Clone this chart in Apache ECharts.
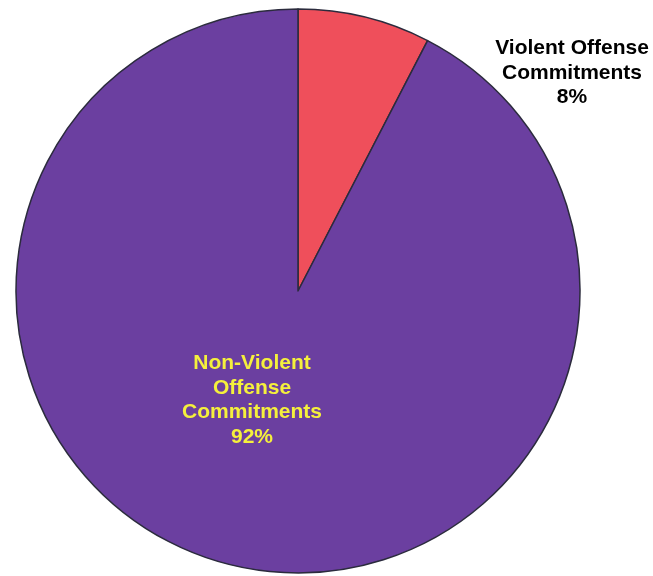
<!DOCTYPE html>
<html>
<head>
<meta charset="utf-8">
<script src="https://cdn.jsdelivr.net/npm/echarts@6/dist/echarts.min.js"></script>
<style>html,body{margin:0;padding:0;background:#fff;}#c{width:653px;height:576px;}</style>
</head>
<body>
<div id="c"></div>
<script>
const categories = ['Violent Offense\nCommitments', 'Non-Violent\nOffense\nCommitments'];
const values = [7.6, 92.4];
const colors = ['#EF4F5B', '#6B3FA0'];
const labelColors = ['#000000', '#F5F03C'];

const chart = echarts.init(document.getElementById('c'), null, {renderer: 'canvas'});
const labelPos = [
  {x: 572, y: 73},
  {x: 252, y: 400}
];
chart.setOption({
  animation: false,
  backgroundColor: '#ffffff',
  series: [{
    type: 'pie',
    center: [298, 291],
    radius: 282,
    startAngle: 90,
    clockwise: true,
    data: categories.map((n, i) => ({
      name: n,
      value: values[i],
      itemStyle: {color: colors[i]},
      label: {color: labelColors[i]}
    })),
    itemStyle: {borderColor: '#2b2b3d', borderWidth: 1.5},
    label: {
      show: true,
      position: 'inside',
      fontFamily: 'Liberation Sans, Arial, sans-serif',
      fontWeight: 'bold',
      fontSize: 21,
      lineHeight: 24.5,
      align: 'center',
      formatter: p => p.name + '\n' + Math.round(p.percent) + '%'
    },
    labelLine: {show: false},
    labelLayout: function (params) {
      const p = labelPos[params.dataIndex];
      return {x: p.x, y: p.y, align: 'center', verticalAlign: 'middle'};
    },
    emphasis: {disabled: true}
  }]
});
</script>
</body>
</html>
